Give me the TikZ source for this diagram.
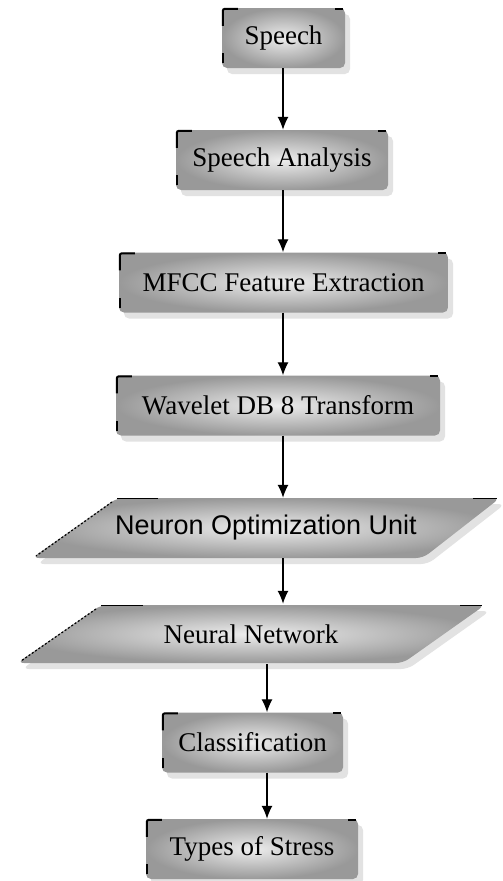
\documentclass[tikz,border=0pt]{standalone}
\usepackage{fontspec}
\setmainfont{Liberation Serif}
\newfontfamily\arialfont{Liberation Sans}
\usetikzlibrary{arrows.meta,shadows}

\tikzset{
  shade3d/.style={inner color=black!7, outer color=black!40,
    drop shadow={shadow xshift=5pt, shadow yshift=-6pt, fill=black!25, opacity=.45}},
  box/.style={shade3d, rounded corners=5pt, minimum height=60pt, inner sep=0pt,
    font=\fontsize{27}{32}\selectfont},
  para/.style={shade3d, rounded corners=7pt},
  paratext/.style={minimum height=60pt, minimum width=300pt, inner sep=0pt,
    font=\fontsize{27}{32}\selectfont},
  cornermark/.style={line width=2pt, rounded corners=2pt},
  stairs/.style={line width=1.2pt, dash pattern=on 2pt off 2pt},
  flow/.style={line width=1.3pt, -{Latex[length=13pt,width=11pt]}}
}

\begin{document}
\begin{tikzpicture}[x=1pt,y=-1pt]
	\useasboundingbox (0,0) rectangle (503,881);
	
	% spine of the arrows
	\coordinate (upper) at (283,0);
	\coordinate (lower) at (267,0);
	
	\node[box, minimum width=123pt] (speech) at (283.5,38) {Speech};
	\node[box, minimum width=212pt] (analysis) at (282,160) {Speech Analysis};
	\node[box, minimum width=329pt] (mfcc) at (283.5,282.5) {MFCC Feature Extraction};
	\node[box, minimum width=324pt] (wavelet) at (278,405.5) {Wavelet DB 8 Transform};
	
	% parallelograms
	\path[para] (117,498) -- (500,498) -- (423,558) -- (32,558) -- cycle;
	\node[paratext] (neuron) at (266,528) {\arialfont Neuron Optimization Unit};
	\draw[stairs] (112,502) -- (36,556);
	\draw[line width=1.2pt] (117,498.6) -- (158,498.6) (473,498.6) -- (497,498.6);
	
	\path[para] (101,605) -- (485,605) -- (403,663) -- (17,663) -- cycle;
	\node[paratext] (network) at (251,634) {Neural Network};
	\draw[stairs] (96,609) -- (21,661);
	\draw[line width=1.2pt] (101,605.6) -- (143,605.6) (460,605.6) -- (482,605.6);
	
	\node[box, minimum width=181pt] (classify) at (252.5,742.5) {Classification};
	\node[box, minimum width=212pt] (types) at (252,849) {Types of Stress};
	
	\foreach \n in {speech,analysis,mfcc,wavelet,classify,types}{
		\draw[cornermark] ([shift={(1pt,-18pt)}]\n.north west) |- ([shift={(16pt,-1pt)}]\n.north west);
		\draw[cornermark] ([shift={(-10pt,-1pt)}]\n.north east) -- ([shift={(-2pt,-1pt)}]\n.north east);
		\draw[cornermark] ([shift={(1pt,5pt)}]\n.south west) -- ([shift={(1pt,15pt)}]\n.south west);
	}
	
	\draw[flow] (speech.south -| upper) -- (analysis.north -| upper);
	\draw[flow] (analysis.south -| upper) -- (mfcc.north -| upper);
	\draw[flow] (mfcc.south -| upper) -- (wavelet.north -| upper);
	\draw[flow] (wavelet.south -| upper) -- (neuron.north -| upper);
	\draw[flow] (neuron.south -| upper) -- (network.north -| upper);
	\draw[flow] (network.south -| lower) -- (classify.north -| lower);
	\draw[flow] (classify.south -| lower) -- (types.north -| lower);
\end{tikzpicture}
\end{document}
